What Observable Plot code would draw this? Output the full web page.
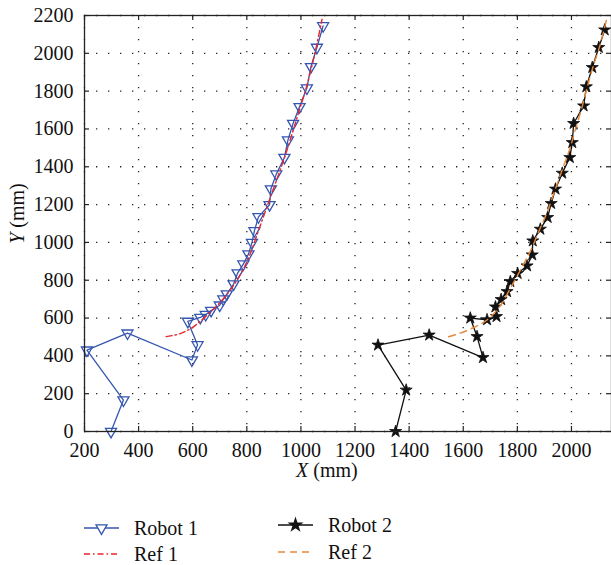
<!DOCTYPE html>
<html>
<head>
<meta charset="utf-8">
<script src="https://cdn.jsdelivr.net/npm/d3@7"></script>
<script src="https://cdn.jsdelivr.net/npm/@observablehq/plot@0.6"></script>
<style>
  body { margin: 0; background: #fff; overflow: hidden; }
  #wrap { position: relative; width: 611px; height: 565px; font-family: "Liberation Serif", serif; color: #111; }
  #wrap svg, #wrap svg text { font-family: "Liberation Serif", serif !important; }
  .lbl { position: absolute; font-size: 20px; white-space: nowrap; font-family: "Liberation Serif", serif; }
  #legend { position: absolute; left: 0; top: 0; }
</style>
</head>
<body>
<div id="wrap"></div>
<script>
// ---- data (mm) ----
const robot1X = [298, 344, 209, 359, 597, 618, 582, 628, 648, 668, 700, 713, 726, 751, 766, 787, 806, 819, 828, 843, 884, 889, 909, 939, 952, 971, 995, 1022, 1037, 1059, 1082];
const robot1Y = [0, 166, 430, 520, 378, 458, 582, 603, 618, 640, 668, 700, 727, 780, 838, 885, 938, 999, 1061, 1135, 1199, 1282, 1361, 1449, 1541, 1629, 1717, 1816, 1929, 2031, 2145];
const ref1X = [502, 550, 597, 628, 660, 700, 740, 780, 810, 840, 870, 900, 930, 960, 990, 1020, 1050, 1078];
const ref1Y = [502, 516, 548, 583, 625, 680, 750, 840, 930, 1050, 1170, 1290, 1410, 1540, 1680, 1820, 1990, 2180];
const robot2X = [1350, 1389, 1285, 1474, 1673, 1651, 1626, 1688, 1723, 1719, 1740, 1762, 1774, 1801, 1836, 1855, 1857, 1885, 1912, 1925, 1941, 1966, 1994, 2003, 2008, 2045, 2055, 2077, 2101, 2123];
const robot2Y = [0, 219, 457, 510, 391, 502, 600, 591, 608, 659, 698, 740, 793, 836, 876, 934, 1008, 1070, 1132, 1206, 1282, 1366, 1449, 1528, 1629, 1722, 1823, 1925, 2031, 2124];
const ref2X = [1546, 1589, 1639, 1688, 1737, 1775, 1810, 1850, 1880, 1910, 1940, 1970, 1995, 2015, 2040, 2060, 2080, 2105, 2130];
const ref2Y = [501, 520, 550, 590, 665, 760, 850, 960, 1060, 1160, 1280, 1400, 1500, 1600, 1720, 1830, 1930, 2040, 2180];
const xTicks = [200, 400, 600, 800, 1000, 1200, 1400, 1600, 1800, 2000];
const yTicks = [0, 200, 400, 600, 800, 1000, 1200, 1400, 1600, 1800, 2000, 2200];
const seriesNames = ["Robot 1", "Ref 1", "Robot 2", "Ref 2"];

const toRows = (xs, ys) => xs.map((x, i) => ({x, y: ys[i]}));
const robot1 = toRows(robot1X, robot1Y);
const ref1 = toRows(ref1X, ref1Y);
const robot2 = toRows(robot2X, robot2Y);
const ref2 = toRows(ref2X, ref2Y);

const BLUE = "#3556b0", RED = "#e8242c", ORANGE = "#e8893a", BLACK = "#111";

// downward triangle symbol
const triangleDown = {
  draw(context, size) {
    const y = Math.sqrt(size / (Math.sqrt(3) * 3));
    context.moveTo(0, 2 * y);
    context.lineTo(-Math.sqrt(3) * y, -y);
    context.lineTo(Math.sqrt(3) * y, -y);
    context.closePath();
  }
};

const W = 611, H = 490, mL = 84, mR = 0, mT = 15, mB = 59;
const innerW = W - mL - mR, innerH = H - mT - mB;
const tick = 5;

const chart = Plot.plot({
  width: W, height: H,
  marginLeft: mL, marginRight: mR, marginTop: mT, marginBottom: mB,
  style: {fontFamily: "Liberation Serif, serif", fontSize: "20px", color: "#111", background: "white"},
  x: {domain: [200, 2148], label: null},
  y: {domain: [0, 2200], label: null},
  marks: [
    Plot.ruleX(xTicks, {x: d => d, stroke: "#222", strokeWidth: 1.3, strokeDasharray: "1.3,10.7"}),
    Plot.ruleY(yTicks, {y: d => d, stroke: "#222", strokeWidth: 1.3, strokeDasharray: "1.3,10.7"}),
    Plot.axisX({ticks: xTicks, tickSize: 0, tickPadding: 11, tickFormat: d => String(d), fontSize: 20}),
    Plot.axisY({ticks: yTicks, tickSize: 0, tickPadding: 11, tickFormat: d => String(d), fontSize: 20}),
    // inward ticks
    Plot.tickX(xTicks, {x: d => d, insetTop: innerH - tick, stroke: "#222", strokeWidth: 1.2}),
    Plot.tickX(xTicks, {x: d => d, insetBottom: innerH - tick, stroke: "#222", strokeWidth: 1.2}),
    Plot.tickY(yTicks, {y: d => d, insetRight: innerW - tick, stroke: "#222", strokeWidth: 1.2}),
    Plot.tickY(yTicks, {y: d => d, insetLeft: innerW - tick, stroke: "#222", strokeWidth: 1.2}),
    // Robot 1 + Ref 1
    Plot.line(robot1, {x: "x", y: "y", stroke: BLUE, strokeWidth: 1.3}),
    Plot.dot(robot1, {x: "x", y: "y", symbol: triangleDown, r: 4.1, stroke: BLUE, strokeWidth: 1.3, fill: "none"}),
    Plot.line(ref1, {x: "x", y: "y", curve: "catmull-rom", stroke: RED, strokeWidth: 1.4, strokeDasharray: "6,3,1.5,3"}),
    // Robot 2 + Ref 2
    Plot.line(robot2, {x: "x", y: "y", stroke: BLACK, strokeWidth: 1.3}),
    Plot.dot(robot2, {x: "x", y: "y", symbol: "star", r: 3.8, fill: BLACK, stroke: BLACK, strokeWidth: 0.8}),
    Plot.line(ref2, {x: "x", y: "y", curve: "catmull-rom", stroke: ORANGE, strokeWidth: 1.4, strokeDasharray: "7,5"}),
    Plot.frame({stroke: "#222", strokeWidth: 1.3})
  ]
});

const wrap = document.getElementById("wrap");
wrap.appendChild(chart);

// axis titles
const xl = document.createElement("div");
xl.className = "lbl";
xl.innerHTML = "<i>X</i> (mm)";
xl.style.left = "296px"; xl.style.top = "459px";
wrap.appendChild(xl);

const yl = document.createElement("div");
yl.className = "lbl";
yl.innerHTML = "<i>Y</i> (mm)";
yl.style.left = "-18px"; yl.style.top = "202px";
yl.style.transform = "rotate(-90deg)";
yl.style.transformOrigin = "center center";
yl.style.width = "70px"; yl.style.textAlign = "center";
wrap.appendChild(yl);

// legend
const ns = "http://www.w3.org/2000/svg";
const leg = document.createElementNS(ns, "svg");
leg.setAttribute("id", "legend");
leg.setAttribute("width", W); leg.setAttribute("height", 565);
leg.style.position = "absolute"; leg.style.left = "0"; leg.style.top = "0"; leg.style.pointerEvents = "none";
wrap.appendChild(leg);
const entries = [
  {name: seriesNames[0], x: 84, y: 528, stroke: BLUE, dash: null, marker: "tri"},
  {name: seriesNames[1], x: 84, y: 554, stroke: RED, dash: "6,3,1.5,3", marker: null},
  {name: seriesNames[2], x: 278, y: 525, stroke: BLACK, dash: null, marker: "star"},
  {name: seriesNames[3], x: 278, y: 552, stroke: ORANGE, dash: "7,5", marker: null}
];
for (const e of entries) {
  const l = document.createElementNS(ns, "line");
  l.setAttribute("x1", e.x); l.setAttribute("x2", e.x + 35);
  l.setAttribute("y1", e.y); l.setAttribute("y2", e.y);
  l.setAttribute("stroke", e.stroke); l.setAttribute("stroke-width", 1.4);
  if (e.dash) l.setAttribute("stroke-dasharray", e.dash);
  leg.appendChild(l);
  if (e.marker) {
    const p = document.createElementNS(ns, "path");
    const sym = e.marker === "tri" ? triangleDown : d3.symbolStar;
    const size = e.marker === "tri" ? Math.PI * 4.1 * 4.1 : Math.PI * 3.8 * 3.8;
    p.setAttribute("d", d3.symbol(sym, size)());
    p.setAttribute("transform", `translate(${e.x + 17.5},${e.y})`);
    p.setAttribute("fill", e.marker === "tri" ? "white" : BLACK);
    p.setAttribute("stroke", e.stroke); p.setAttribute("stroke-width", 1.3);
    leg.appendChild(p);
  }
  const t = document.createElementNS(ns, "text");
  t.setAttribute("x", e.x + 50); t.setAttribute("y", e.y);
  t.setAttribute("dy", "0.35em");
  t.setAttribute("font-size", 20); t.setAttribute("fill", "#111");
  t.textContent = e.name;
  leg.appendChild(t);
}
</script>
</body>
</html>
